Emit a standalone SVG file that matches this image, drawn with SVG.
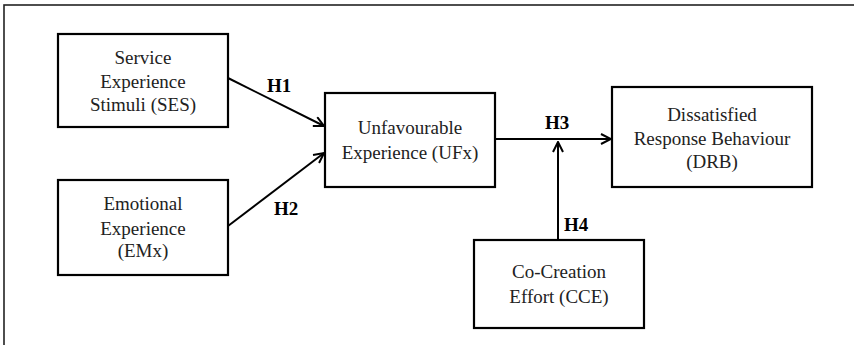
<svg xmlns="http://www.w3.org/2000/svg" width="854" height="345" viewBox="0 0 854 345">
<defs>
<marker id="arr" viewBox="0 0 12 12" refX="11" refY="6" markerWidth="12" markerHeight="12" markerUnits="userSpaceOnUse" orient="auto">
<path d="M1,1 L11,6 L1,11" fill="none" stroke="#000" stroke-width="2"/>
</marker>
<style>
.box{fill:#fff;stroke:#000;stroke-width:2.2}
.t{font-family:'Liberation Serif','Times New Roman',serif;font-size:19px;fill:#222;text-anchor:middle}
.h{font-family:'Liberation Serif','Times New Roman',serif;font-size:19px;font-weight:bold;fill:#000}
.c{stroke:#000;stroke-width:2;fill:none}
</style>
</defs>
<rect width="854" height="345" fill="#fff"/>
<rect x="4" y="5" width="900" height="400" fill="none" stroke="#222" stroke-width="1.6"/>
<g id="connectors">
<line class="c" x1="228" y1="78" x2="324" y2="126" marker-end="url(#arr)"/>
<line class="c" x1="228" y1="226" x2="324" y2="153" marker-end="url(#arr)"/>
<line class="c" x1="495" y1="139" x2="611" y2="139" marker-end="url(#arr)"/>
<line class="c" x1="558" y1="240" x2="558" y2="142" marker-end="url(#arr)"/>
<text class="h" x="267" y="92">H1</text>
<text class="h" x="274" y="215">H2</text>
<text class="h" x="545" y="129">H3</text>
<text class="h" x="564" y="231">H4</text>
</g>
<g id="SES">
<rect class="box" x="58" y="34" width="170" height="93"/>
<text class="t" x="143" y="64">Service</text>
<text class="t" x="143" y="88">Experience</text>
<text class="t" x="143" y="111">Stimuli (SES)</text>
</g>
<g id="EMx">
<rect class="box" x="58" y="180" width="170" height="95"/>
<text class="t" x="143" y="210">Emotional</text>
<text class="t" x="143" y="235">Experience</text>
<text class="t" x="143" y="257">(EMx)</text>
</g>
<g id="UFx">
<rect class="box" x="325" y="93" width="170" height="94"/>
<text class="t" x="410" y="134">Unfavourable</text>
<text class="t" x="410" y="159">Experience (UFx)</text>
</g>
<g id="DRB">
<rect class="box" x="612" y="87" width="200" height="100"/>
<text class="t" x="712" y="121">Dissatisfied</text>
<text class="t" x="712" y="145">Response Behaviour</text>
<text class="t" x="712" y="168">(DRB)</text>
</g>
<g id="CCE">
<rect class="box" x="474" y="240" width="170" height="88"/>
<text class="t" x="559" y="278">Co-Creation</text>
<text class="t" x="559" y="303">Effort (CCE)</text>
</g>
</svg>
